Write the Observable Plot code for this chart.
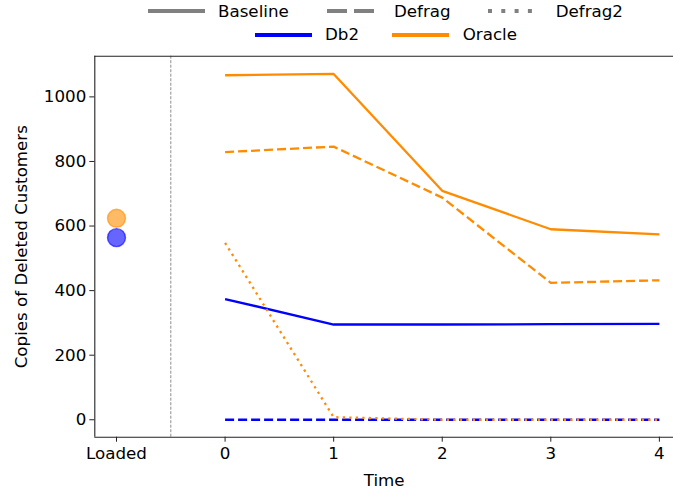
<!DOCTYPE html>
<html><head><meta charset="utf-8">
<script src="https://cdn.jsdelivr.net/npm/d3@7"></script>
<script src="https://cdn.jsdelivr.net/npm/@observablehq/plot@0.6"></script>
<style>
html,body{margin:0;padding:0;background:#fff;overflow:hidden;}
#wrap{position:relative;width:673px;height:493px;font-family:"DejaVu Sans",sans-serif;}
#wrap svg{display:block;}
#legend{position:absolute;left:0;top:0;}
</style></head><body><div id="wrap"></div>
<script>
// ---- data ----
const times = [0, 1, 2, 3, 4];
const xTickValues = [-1, 0, 1, 2, 3, 4];
const xTickLabels = ["Loaded", "0", "1", "2", "3", "4"];
const yTickValues = [0, 200, 400, 600, 800, 1000];
const databases = ["Db2", "Oracle"];
const strategies = ["Baseline", "Defrag", "Defrag2"];
const db2Baseline = [374, 295, 295, 296, 297];
const db2Defrag = [0, 0, 0, 0, 0];
const oracleBaseline = [1067, 1071, 709, 590, 574];
const oracleDefrag = [829, 846, 688, 424, 432];
const oracleDefrag2 = [548, 8, 0, 0, 0];
const loadedDb = ["Oracle", "Db2"];
const loadedValues = [624, 564];
const loadedX = -1;
const separatorX = -0.5;

// ---- styles ----
const colors = {Db2: "#0000ff", Oracle: "#ff8c00"};
const dashes = {Baseline: null, Defrag: "9,4", Defrag2: "2.3,4.2"};

const seriesList = [
  {db: "Db2", strategy: "Baseline", values: db2Baseline},
  {db: "Db2", strategy: "Defrag", values: db2Defrag},
  {db: "Oracle", strategy: "Baseline", values: oracleBaseline},
  {db: "Oracle", strategy: "Defrag", values: oracleDefrag},
  {db: "Oracle", strategy: "Defrag2", values: oracleDefrag2}
];

const lineMarks = seriesList.map(s => {
  const rows = times.map((t, i) => ({t, v: s.values[i]}));
  return Plot.line(rows, {
    x: "t", y: "v", stroke: colors[s.db], strokeWidth: 2.3,
    strokeDasharray: dashes[s.strategy], strokeLinecap: "butt", strokeLinejoin: "round"
  });
});

const loadedRows = loadedDb.map((db, i) => ({db, x: loadedX, v: loadedValues[i]}));
const dotMarks = loadedRows.map(r => Plot.dot([r], {
  x: "x", y: "v", r: 9, fill: colors[r.db], fillOpacity: 0.6,
  stroke: colors[r.db], strokeOpacity: 0.6, strokeWidth: 1.4
}));

const xDomain = [-1.2, 4.13];
const yDomain = [-54, 1126];

const chart = Plot.plot({
  width: 673, height: 493,
  marginTop: 55.7, marginBottom: 56.3, marginLeft: 94.3, marginRight: 0,
  x: {domain: xDomain},
  y: {domain: yDomain},
  style: {fontFamily: "DejaVu Sans", fontSize: "16.7px", background: "white", color: "black", overflow: "hidden"},
  marks: [
    Plot.ruleX([separatorX], {stroke: "#707070", strokeWidth: 0.8, strokeDasharray: "3,1.5"}),
    ...lineMarks,
    ...dotMarks,
    Plot.ruleX([xDomain[0]], {stroke: "#222", strokeWidth: 1.1}),
    Plot.ruleY([yDomain[0]], {stroke: "#222", strokeWidth: 1.1}),
    Plot.ruleY([yDomain[1]], {stroke: "#222", strokeWidth: 1.1}),
    Plot.axisX({ticks: xTickValues, tickFormat: d => xTickLabels[xTickValues.indexOf(d)], tickSize: 5, tickPadding: 5, label: null, stroke: "#222"}),
    Plot.axisY({ticks: yTickValues, tickFormat: d => String(d), tickSize: 5, tickPadding: 3.5, label: null, stroke: "#222"}),
    Plot.text(["Time"], {frameAnchor: "bottom", dy: 43.5, lineAnchor: "middle", text: d => d}),
    Plot.text(["Copies of Deleted Customers"], {frameAnchor: "left", dx: -73, rotate: -90, lineAnchor: "middle", textAnchor: "middle", text: d => d})
  ]
});
document.getElementById("wrap").appendChild(chart);

// ---- legend ----
const legendItems = [
  {label: "Baseline", color: "#808080", dash: null, x: 148, textX: 218, lineY: 11, baseY: 16.7},
  {label: "Defrag", color: "#808080", dash: "20,7,20,100", x: 327, textX: 394, lineY: 11, baseY: 16.7},
  {label: "Defrag2", color: "#808080", dash: "4,9.3,4,9.3,4,9.3,4,100", x: 488, textX: 555.7, lineY: 11, baseY: 16.7},
  {label: "Db2", color: colors.Db2, dash: null, x: 255, textX: 325, lineY: 35, baseY: 40},
  {label: "Oracle", color: colors.Oracle, dash: null, x: 392, textX: 462.7, lineY: 35, baseY: 40}
];
const leg = d3.select("#wrap").append("svg").attr("id", "legend")
  .attr("width", 673).attr("height", 50)
  .style("font-family", "DejaVu Sans").style("font-size", "16.7px");
const g = leg.selectAll("g").data(legendItems).join("g");
g.append("line")
  .attr("x1", d => d.x).attr("x2", d => d.x + 57)
  .attr("y1", d => d.lineY).attr("y2", d => d.lineY)
  .attr("stroke", d => d.color).attr("stroke-width", 4)
  .attr("stroke-dasharray", d => d.dash);
g.append("text").attr("x", d => d.textX).attr("y", d => d.baseY).text(d => d.label);
</script></body></html>
